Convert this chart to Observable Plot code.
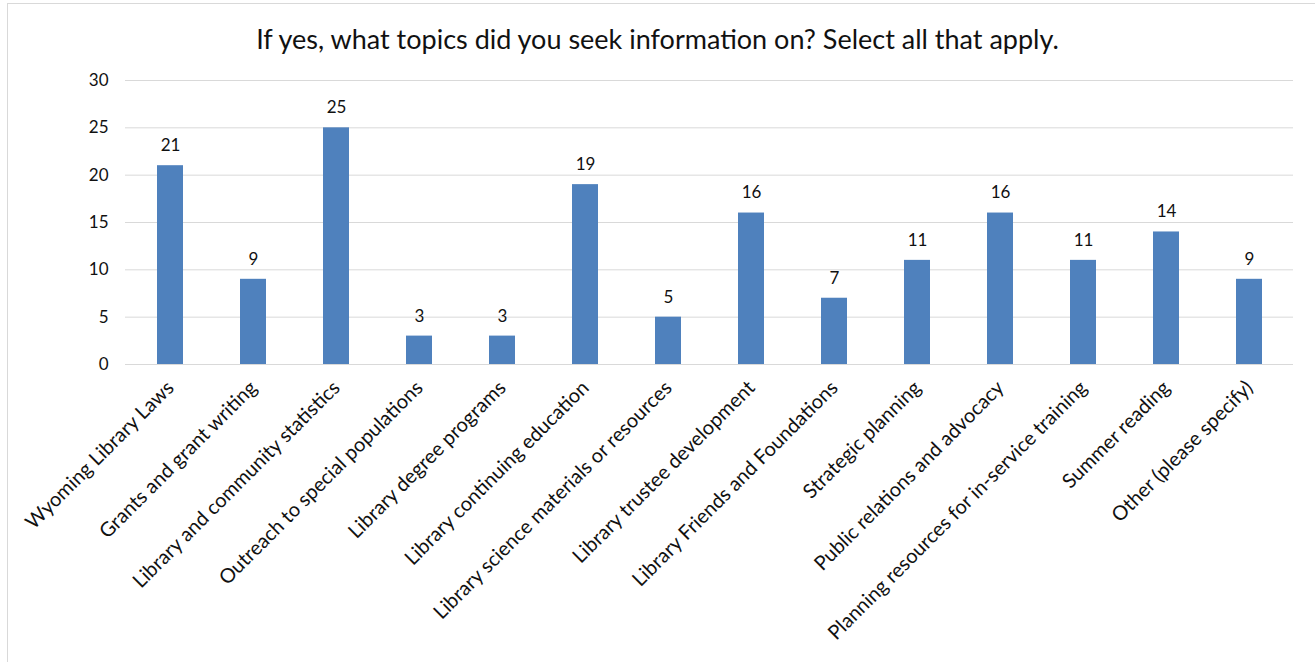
<!DOCTYPE html>
<html>
<head>
<meta charset="utf-8">
<script src="https://cdn.jsdelivr.net/npm/d3@7"></script>
<script src="https://cdn.jsdelivr.net/npm/@observablehq/plot@0.6"></script>
<style>
  html, body { margin: 0; padding: 0; background: #fff; }
  #wrap { position: relative; width: 1315px; height: 662px; overflow: hidden; font-family: Lato, "Open Sans", sans-serif; }
  #frame { position: absolute; left: 7px; top: 3px; width: 1320px; height: 670px; border: 1px solid #d9d9d9; box-sizing: border-box; }
  #title { position: absolute; left: 0; width: 1315px; top: 22px; text-align: center; font-size: 27px; color: #111; }
  #chart { position: absolute; left: 0; top: 0; }
</style>
</head>
<body>
<div id="wrap">
  <div id="frame"></div>
  <div id="title">If yes, what topics did you seek information on? Select all that apply.</div>
  <div id="chart"></div>
</div>
<script>
const categories = [
  "Wyoming Library Laws",
  "Grants and grant writing",
  "Library and community statistics",
  "Outreach to special populations",
  "Library degree programs",
  "Library continuing education",
  "Library science materials or resources",
  "Library trustee development",
  "Library Friends and Foundations",
  "Strategic planning",
  "Public relations and advocacy",
  "Planning resources for in-service training",
  "Summer reading",
  "Other (please specify)"
];
const counts = [21, 9, 25, 3, 3, 19, 5, 16, 7, 11, 16, 11, 14, 9];
const yTicks = [0, 5, 10, 15, 20, 25, 30];

const data = categories.map((c, i) => ({category: c, value: counts[i]}));

const chart = Plot.plot({
  width: 1315,
  height: 662,
  marginTop: 80,
  marginBottom: 298,
  marginLeft: 125,
  marginRight: 22,
  style: {fontFamily: "Lato, 'Open Sans', sans-serif", background: "transparent", overflow: "visible"},
  x: {domain: categories, paddingInner: 0.69, paddingOuter: 0.345, align: 0.5},
  y: {domain: [0, 30]},
  marks: [
    Plot.gridY(yTicks, {stroke: "#d9d9d9", strokeOpacity: 1, strokeWidth: 1}),
    Plot.barY(data, {x: "category", y: "value", fill: "#4f81bd"}),
    Plot.text(data, {x: "category", y: "value", text: d => String(d.value), dy: -20, fontSize: 17, fill: "#111"}),
    Plot.axisY({ticks: yTicks, tickSize: 0, tickPadding: 17, fontSize: 17, color: "#111", label: null}),
    Plot.axisX({tickSize: 0, tickRotate: -45, tickPadding: 20, fontSize: 20, color: "#111", label: null}),
    Plot.ruleY([0], {stroke: "#d9d9d9"})
  ]
});
document.getElementById("chart").appendChild(chart);
</script>
</body>
</html>
